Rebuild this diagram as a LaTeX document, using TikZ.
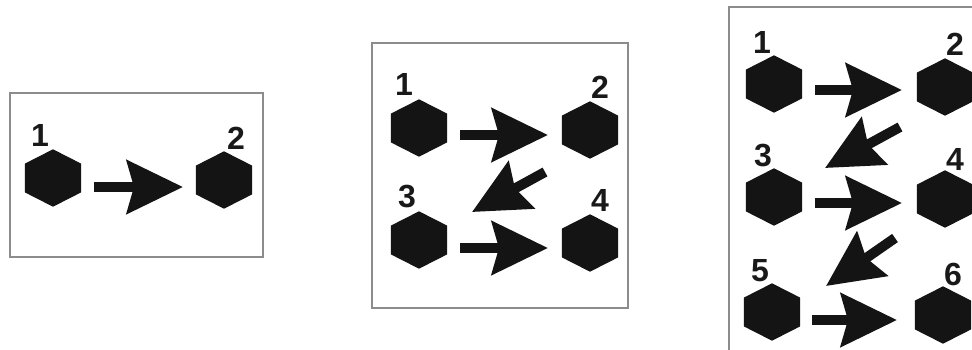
\documentclass[tikz,border=0pt]{standalone}
\usepackage{fontspec}
\setmainfont{Liberation Sans}
\usetikzlibrary{calc,arrows.meta}
\newcommand\hexfill[1]{%
  \fill[hexcol] (#1.north)
    -- ($(#1.north east)!0.25!(#1.south east)$)
    -- ($(#1.north east)!0.75!(#1.south east)$)
    -- (#1.south)
    -- ($(#1.north west)!0.75!(#1.south west)$)
    -- ($(#1.north west)!0.25!(#1.south west)$) -- cycle;}
\begin{document}
\begin{tikzpicture}[x=1pt,y=-1pt,
  hexbox/.style={inner sep=0pt, minimum width=56pt, minimum height=57pt},
  lbl/.style={font=\bfseries\fontsize{32}{32}\selectfont, inner sep=0pt, text=black!90},
  panel/.style={draw=black!45, line width=1.4pt},
  blk/.style={line width=10pt, black!92, -{Stealth[length=56pt 0, width=53pt 0, inset=7pt 0]}},
  hexcol/.style={fill=black!92}]
\useasboundingbox (0,0) rectangle (972,349);
\fill[white] (0,0) rectangle (972,349);
\begin{scope}
\clip (0,0) rectangle (972,349);
% ---------- panel 1
\draw[panel] (10,93) rectangle (263,257);
\node[hexbox] (a1) at (53,178) {}; \hexfill{a1}
\node[hexbox] (a2) at (224,180) {}; \hexfill{a2}
\node[lbl] (la1) at (40,135) {1};
\node[lbl] (la2) at (236,138) {2};
\coordinate (a1t) at (94,187); \coordinate (a1h) at (183,187);
\draw[blk] (a1t) -- (a1h);
% ---------- panel 2
\draw[panel] (372,43) rectangle (628,308);
\node[hexbox] (b1) at (419,128) {}; \hexfill{b1}
\node[hexbox] (b2) at (590,130) {}; \hexfill{b2}
\node[hexbox] (b3) at (419,240) {}; \hexfill{b3}
\node[hexbox] (b4) at (590,243) {}; \hexfill{b4}
\node[lbl] (lb1) at (404,84) {1};
\node[lbl] (lb2) at (600,87) {2};
\node[lbl] (lb3) at (407,197) {3};
\node[lbl] (lb4) at (600,200) {4};
\coordinate (b12t) at (460,135); \coordinate (b12h) at (548,135);
\coordinate (b23t) at (545,172); \coordinate (b23h) at (472,212);
\coordinate (b34t) at (460,248); \coordinate (b34h) at (548,248);
\draw[blk] (b12t) -- (b12h);
\draw[blk] (b23t) -- (b23h);
\draw[blk] (b34t) -- (b34h);
% ---------- panel 3
\draw[panel] (729,7) rectangle (990,370);
\node[hexbox] (c1) at (774,84) {}; \hexfill{c1}
\node[hexbox] (c2) at (945,87) {}; \hexfill{c2}
\node[hexbox] (c3) at (774,197) {}; \hexfill{c3}
\node[hexbox] (c4) at (945,199) {}; \hexfill{c4}
\node[hexbox] (c5) at (772,312) {}; \hexfill{c5}
\node[hexbox] (c6) at (943,315) {}; \hexfill{c6}
\node[lbl] (lc1) at (762,42) {1};
\node[lbl] (lc2) at (955,44) {2};
\node[lbl] (lc3) at (763,156) {3};
\node[lbl] (lc4) at (955,159) {4};
\node[lbl] (lc5) at (760,271) {5};
\node[lbl] (lc6) at (953,274) {6};
\coordinate (c12t) at (815,90); \coordinate (c12h) at (902,90);
\coordinate (c23t) at (900,127); \coordinate (c23h) at (825,168);
\coordinate (c34t) at (815,203); \coordinate (c34h) at (902,203);
\coordinate (c45t) at (895,238); \coordinate (c45h) at (826,286);
\coordinate (c56t) at (812,320); \coordinate (c56h) at (897,320);
\draw[blk] (c12t) -- (c12h);
\draw[blk] (c23t) -- (c23h);
\draw[blk] (c34t) -- (c34h);
\draw[blk] (c45t) -- (c45h);
\draw[blk] (c56t) -- (c56h);
\end{scope}
\end{tikzpicture}
\end{document}
